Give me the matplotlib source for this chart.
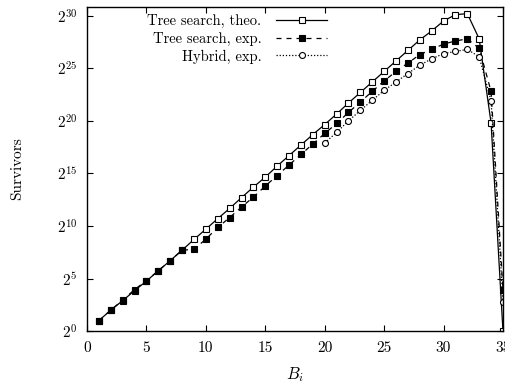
"""
plot.py
-------
Survivors vs B_i for tree search (theory / experiment) and hybrid search.
"""

import numpy as np
import matplotlib
matplotlib.use("Agg")
import matplotlib.pyplot as plt
from matplotlib.ticker import NullLocator, FixedLocator

plt.rcParams["font.family"] = "serif"
plt.rcParams["font.serif"] = ["cmr10", "DejaVu Serif"]
plt.rcParams["mathtext.fontset"] = "cm"
plt.rcParams["axes.formatter.use_mathtext"] = True

# log2(survivors)
b_tree = np.arange(1, 36)
log2_theo = [1.0, 2.0, 2.9, 3.85, 4.76, 5.74, 6.7, 7.7, 8.72, 9.7,
             10.7, 11.67, 12.7, 13.7, 14.65, 15.7, 16.7, 17.7, 18.7, 19.65,
             20.65, 21.7, 22.7, 23.7, 24.7, 25.7, 26.7, 27.7, 28.55, 29.5,
             30.1, 30.2, 27.8, 19.8, 0.0]
log2_exp = [1.0, 2.0, 2.95, 3.95, 4.8, 5.75, 6.7, 7.7, 7.77, 8.75,
            9.86, 10.8, 11.8, 12.75, 13.8, 14.8, 15.8, 16.8, 17.8, 18.8,
            19.75, 20.8, 21.8, 22.8, 23.8, 24.7, 25.5, 26.3, 26.8, 27.3,
            27.6, 27.8, 26.9, 22.8, 3.9]
b_hybrid = np.arange(20, 36)
log2_hybrid = [17.9, 18.9, 20.0, 21.0, 21.95, 22.9, 23.7, 24.5, 25.3, 25.9,
               26.4, 26.6, 26.8, 26.1, 21.9, 2.8]

x_ticks = [0, 5, 10, 15, 20, 25, 30, 35]
y_exps = [0, 5, 10, 15, 20, 25, 30]

FS = 11

fig = plt.figure(figsize=(5.06, 3.85), dpi=100)
ax = fig.add_axes([0.172, 0.140, 0.822, 0.8426])

ax.plot(b_tree, 2.0 ** np.array(log2_theo), "k-", lw=0.9,
        marker="s", ms=5, mfc="white", mec="k", mew=0.8,
        label="Tree search, theo.")
ax.plot(b_tree, 2.0 ** np.array(log2_exp), "k", ls=(0, (4, 4)), lw=0.9,
        marker="s", ms=5, mfc="k", mec="k", mew=0.8,
        label="Tree search, exp.")
ax.plot(b_hybrid, 2.0 ** np.array(log2_hybrid), "k", ls=(0, (1, 1.5)), lw=0.9,
        marker="o", ms=4.3, mfc="white", mec="k", mew=0.8,
        label="Hybrid, exp.")

ax.set_yscale("log", base=2)
ax.set_xlim(0, 35)
ax.set_ylim(1, 2.0 ** 30.86)
ax.yaxis.set_major_locator(FixedLocator([2.0 ** k for k in y_exps]))
ax.yaxis.set_minor_locator(NullLocator())
ax.set_yticklabels([f"$2^{{{k}}}$" for k in y_exps])
ax.set_xticks(x_ticks)
ax.set_xticklabels([str(v) for v in x_ticks])
ax.tick_params(direction="in", top=True, right=True, length=4, width=0.8,
               labelsize=FS, pad=7)
for s in ax.spines.values():
    s.set_linewidth(1.0)

ax.set_xlabel("$B_i$", fontsize=FS + 1, labelpad=8)
ax.set_ylabel("Survivors", fontsize=FS)
ax.yaxis.set_label_coords(-0.152, 0.5)

ax.legend(loc="upper right", bbox_to_anchor=(0.595, 1.0), frameon=False,
          markerfirst=False, fontsize=FS - 0.5, handlelength=3.5,
          handletextpad=1.0, labelspacing=0.25, borderaxespad=0.2,
          borderpad=0.3)

fig.savefig("out.png", dpi=100)
